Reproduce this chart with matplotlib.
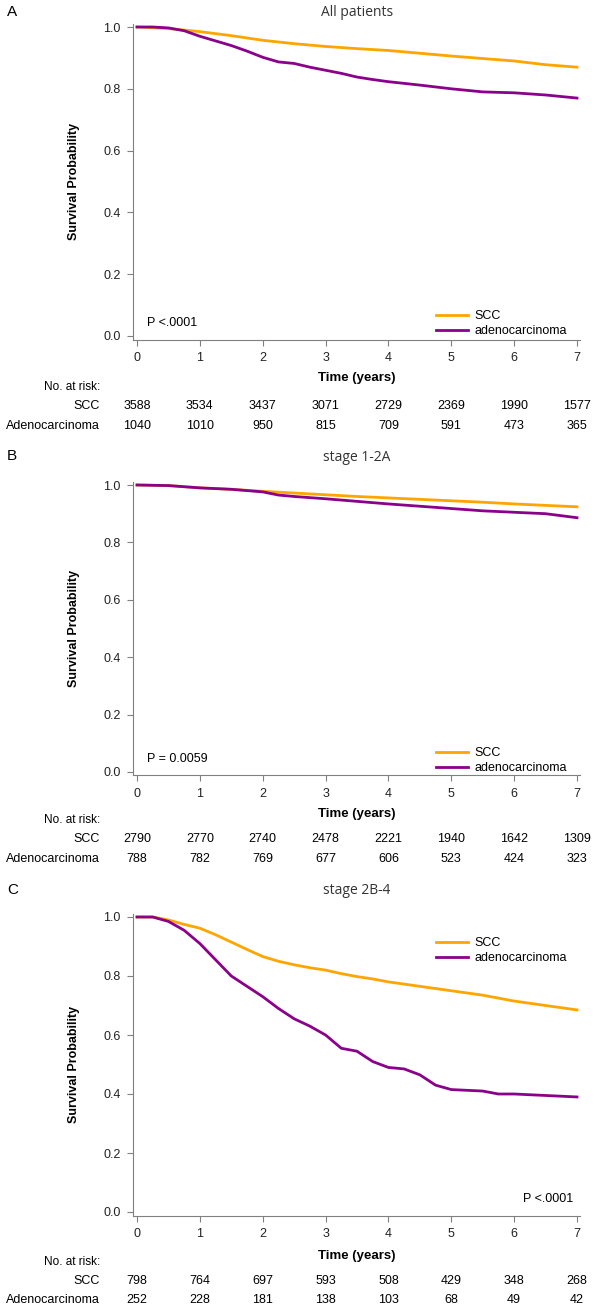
import matplotlib
matplotlib.use("Agg")
import matplotlib.pyplot as plt
from matplotlib.transforms import blended_transform_factory

plt.rcParams['font.family'] = ['Liberation Sans', 'DejaVu Sans']

# ---- data ----
years = [0, 1, 2, 3, 4, 5, 6, 7]

# panel A: all patients
a_t_scc = [0, 0.5, 1, 1.5, 2, 2.5, 3, 3.5, 4, 4.5, 5, 5.5, 6, 6.5, 7]
a_s_scc = [1.0, 0.995, 0.985, 0.972, 0.957, 0.946, 0.937, 0.93, 0.924, 0.915,
           0.906, 0.898, 0.89, 0.878, 0.87]
a_t_ade = [0, 0.25, 0.5, 0.75, 1, 1.25, 1.5, 1.75, 2, 2.25, 2.5, 2.75, 3,
           3.25, 3.5, 3.75, 4, 4.5, 5, 5.5, 6, 6.5, 7]
a_s_ade = [1.0, 1.0, 0.997, 0.988, 0.97, 0.955, 0.94, 0.922, 0.902, 0.887,
           0.882, 0.87, 0.86, 0.85, 0.838, 0.83, 0.823, 0.812, 0.80, 0.79,
           0.787, 0.78, 0.77]
a_risk_scc = [3588, 3534, 3437, 3071, 2729, 2369, 1990, 1577]
a_risk_ade = [1040, 1010, 950, 815, 709, 591, 473, 365]

# panel B: stage 1-2A
b_t_scc = [0, 0.5, 1, 1.5, 2, 2.5, 3, 3.5, 4, 4.5, 5, 5.5, 6, 6.5, 7]
b_s_scc = [1.0, 0.998, 0.99, 0.985, 0.978, 0.972, 0.966, 0.96, 0.955, 0.95,
           0.945, 0.94, 0.934, 0.929, 0.924]
b_t_ade = [0, 0.5, 1, 1.5, 2, 2.25, 2.5, 3, 3.5, 4, 4.5, 5, 5.5, 6, 6.5, 7]
b_s_ade = [1.0, 0.998, 0.99, 0.985, 0.976, 0.965, 0.96, 0.952, 0.943, 0.934,
           0.926, 0.918, 0.91, 0.905, 0.9, 0.886]
b_risk_scc = [2790, 2770, 2740, 2478, 2221, 1940, 1642, 1309]
b_risk_ade = [788, 782, 769, 677, 606, 523, 424, 323]

# panel C: stage 2B-4
c_t_scc = [0, 0.25, 0.5, 0.75, 1, 1.25, 1.5, 1.75, 2, 2.25, 2.5, 2.75, 3,
           3.25, 3.5, 3.75, 4, 4.5, 5, 5.5, 6, 6.5, 7]
c_s_scc = [1.0, 1.0, 0.99, 0.975, 0.962, 0.94, 0.915, 0.89, 0.866, 0.85,
           0.838, 0.828, 0.82, 0.808, 0.798, 0.79, 0.78, 0.765, 0.75, 0.735,
           0.715, 0.70, 0.685]
c_t_ade = [0, 0.25, 0.5, 0.75, 1, 1.25, 1.5, 1.75, 2, 2.25, 2.5, 2.75, 3,
           3.25, 3.5, 3.75, 4, 4.25, 4.5, 4.75, 5, 5.5, 5.75, 6, 6.5, 7]
c_s_ade = [1.0, 1.0, 0.985, 0.955, 0.91, 0.855, 0.80, 0.765, 0.73, 0.69,
           0.655, 0.63, 0.60, 0.555, 0.545, 0.51, 0.49, 0.485, 0.465, 0.43,
           0.415, 0.41, 0.40, 0.40, 0.395, 0.39]
c_risk_scc = [798, 764, 697, 593, 508, 429, 348, 268]
c_risk_ade = [252, 228, 181, 138, 103, 68, 49, 42]

SCC_COL = '#FFA500'
ADE_COL = '#8B008B'
GRAY = '#808080'

W, H = 600, 1312
fig = plt.figure(figsize=(W / 100, H / 100), dpi=100)


def fy(px):
    return 1 - px / H


def panel(letter, title, rows, t_scc, s_scc, t_ade, s_ade,
          risk_scc, risk_ade, pval, p_right, leg_top):
    # rows: pixel rows of letter, 1.0, 0.0, time label, no. at risk, scc, adeno
    let_px, top_px, bot_px, time_px, r0, r1, r2 = rows
    x0, x7 = 137, 577
    unit = (x7 - x0) / 7
    xlo, xhi = -0.06, 7.05
    ylo, yhi = -0.012, 1.01
    yunit = (bot_px - top_px)
    left = x0 + xlo * unit
    right = x0 + xhi * unit
    top = top_px - (yhi - 1) * yunit
    bot = bot_px - ylo * yunit
    ax = fig.add_axes([left / W, 1 - bot / H, (right - left) / W, (bot - top) / H])
    ax.plot(t_scc, s_scc, color=SCC_COL, lw=2, label='SCC')
    ax.plot(t_ade, s_ade, color=ADE_COL, lw=2, label='adenocarcinoma')
    ax.set_xlim(xlo, xhi)
    ax.set_ylim(ylo, yhi)
    ax.set_xticks(years)
    ax.set_yticks([0, 0.2, 0.4, 0.6, 0.8, 1.0])
    ax.set_yticklabels(['0.0', '0.2', '0.4', '0.6', '0.8', '1.0'])
    for s in ['top', 'right']:
        ax.spines[s].set_visible(False)
    for s in ['left', 'bottom']:
        ax.spines[s].set_color(GRAY)
    ax.tick_params(direction='out', length=4, color=GRAY, labelsize=9,
                   labelcolor='#222222', pad=5)
    ax.set_ylabel('Survival Probability', fontsize=9, fontweight='bold')
    ax.yaxis.set_label_coords((80 - left) / (right - left), 0.5)
    ax.set_xlabel('Time (years)', fontsize=9.5, fontweight='bold', va='center')
    ax.xaxis.set_label_coords(0.5, (bot - time_px) / (bot - top))
    fig.text((x0 + x7) / 2 / W, fy(let_px + 1), title, fontsize=10,
             family=['Open Sans', 'DejaVu Sans'], color='#333333',
             ha='center', va='center')
    fig.text(7 / W, fy(let_px), letter, fontsize=11, va='center')
    ax.legend(loc='upper right', frameon=False, fontsize=9, handlelength=2.6,
              handletextpad=0.5, labelspacing=0.25, borderpad=0,
              bbox_to_anchor=(0.985, (bot - leg_top) / (bot - top)))
    if p_right:
        ax.text(0.985, 0.035, pval, transform=ax.transAxes, ha='right',
                va='bottom', fontsize=9)
    else:
        ax.text(0.03, 0.035, pval, transform=ax.transAxes, ha='left',
                va='bottom', fontsize=9)
    # number at risk table
    tr = blended_transform_factory(ax.transData, fig.transFigure)
    fig.text(100 / W, fy(r0), 'No. at risk:', fontsize=8.5, ha='right',
             va='center')
    fig.text(100 / W, fy(r1), 'SCC', fontsize=9, ha='right', va='center')
    fig.text(100 / W, fy(r2), 'Adenocarcinoma', fontsize=9, ha='right',
             va='center')
    for yr, n1, n2 in zip(years, risk_scc, risk_ade):
        ax.text(yr, fy(r1), str(n1), transform=tr, ha='center', va='center',
                fontsize=9)
        ax.text(yr, fy(r2), str(n2), transform=tr, ha='center', va='center',
                fontsize=9)
    return ax


panel('A', 'All patients', (12, 27, 336, 378, 387, 406, 426),
      a_t_scc, a_s_scc, a_t_ade, a_s_ade, a_risk_scc, a_risk_ade,
      'P <.0001', False, 304)
panel('B', 'stage 1-2A', (456, 485, 772, 814, 820, 839, 859),
      b_t_scc, b_s_scc, b_t_ade, b_s_ade, b_risk_scc, b_risk_ade,
      'P = 0.0059', False, 741)
panel('C', 'stage 2B-4', (890, 917, 1212, 1256, 1262, 1281, 1300),
      c_t_scc, c_s_scc, c_t_ade, c_s_ade, c_risk_scc, c_risk_ade,
      'P <.0001', True, 931)

fig.savefig('out.png', dpi=100)
